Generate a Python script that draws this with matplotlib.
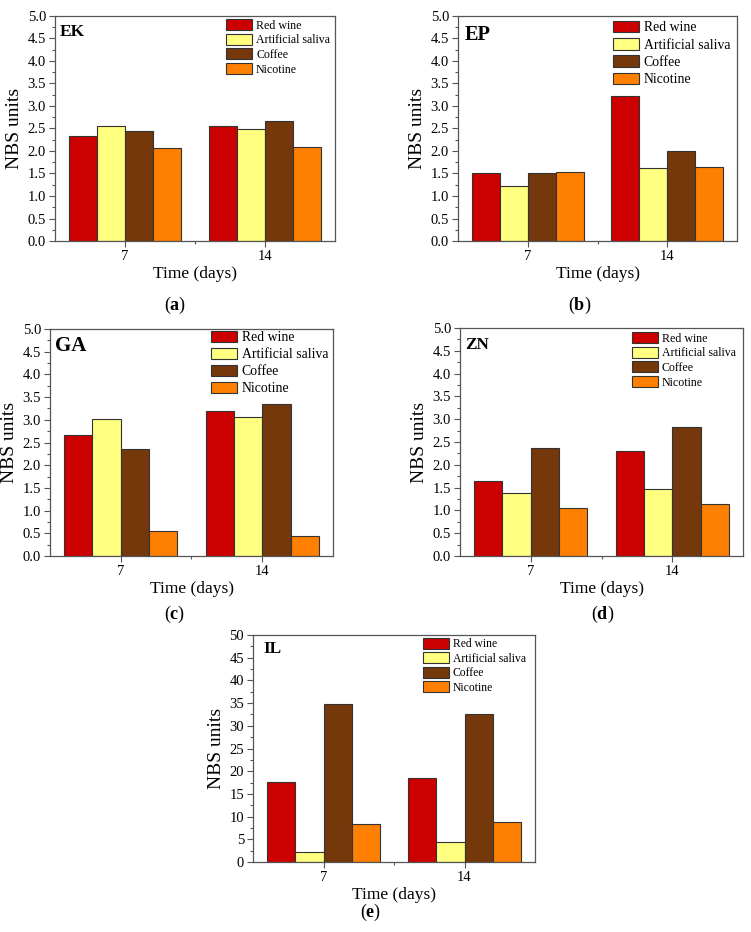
import numpy as np
import matplotlib
matplotlib.use("Agg")
import matplotlib.pyplot as plt
from matplotlib.ticker import MultipleLocator, FixedLocator, FormatStrFormatter

plt.rcParams["font.family"] = ["Liberation Serif", "DejaVu Serif"]
plt.rcParams["mathtext.fontset"] = "custom"
plt.rcParams["mathtext.rm"] = "Liberation Serif"
plt.rcParams["mathtext.bf"] = "Liberation Serif:bold"

# data
days = [7, 14]
series = ["Red wine", "Artificial saliva", "Coffee", "Nicotine"]
colors = ["#CC0000", "#FFFF80", "#74380A", "#FF8000"]

ek = [[2.33, 2.56], [2.56, 2.49], [2.44, 2.66], [2.06, 2.09]]
ep = [[1.50, 3.23], [1.23, 1.63], [1.52, 1.99], [1.54, 1.64]]
ga = [[2.66, 3.19], [3.01, 3.07], [2.35, 3.34], [0.55, 0.44]]
zn = [[1.65, 2.30], [1.38, 1.46], [2.36, 2.82], [1.05, 1.15]]
il = [[17.7, 18.4], [2.2, 4.4], [34.7, 32.5], [8.4, 8.9]]

W, H = 751, 932
fig = plt.figure(figsize=(W / 100, H / 100), dpi=100)

# name, data, ymax, major, minor, axes box px (l, t, r, b), sub label, label xy,
# legend font, legend spacing, legend offset px (right, top), name font, name offset px
panels = [
    ("EK", ek, 5.0, 0.5, 0.25, (55, 16, 335, 241), "a", (175, 305), 8.6, 0.17, (5, 3), 12.5, (5, 9)),
    ("EP", ep, 5.0, 0.5, 0.25, (458, 16, 737, 241), "b", (580, 305), 9.9, 0.27, (7, 5), 14.7, (7, 10)),
    ("GA", ga, 5.0, 0.5, 0.25, (50, 329, 333, 556), "c", (175, 614), 9.9, 0.25, (5, 2), 15, (5, 8)),
    ("ZN", zn, 5.0, 0.5, 0.25, (460, 328, 743, 556), "d", (603, 614), 8.6, 0.17, (7, 4), 12.3, (5, 10)),
    ("IL", il, 50, 5, 2.5, (253, 635, 535, 862), "e", (371, 912), 8.4, 0.17, (9, 3), 12.5, (10, 7)),
]

bw = 1.4
offsets = [-2.1, -0.7, 0.7, 2.1]
spine_col = "#555555"

for (name, data, ymax, major, minor, (l, t, r, b), sub, (lx, ly),
     lfs, lsp, (lox, loy), nfs, (nox, noy)) in panels:
    aw, ah = r - l, b - t
    ax = fig.add_axes([l / W, 1 - b / H, aw / W, ah / H])
    for vals, lab, col, off in zip(data, series, colors, offsets):
        ax.bar(np.array(days) + off, vals, width=bw, color=col, edgecolor="#333333",
               linewidth=0.8, label=lab)
    ax.set_xlim(3.5, 17.5)
    ax.set_ylim(0, ymax)
    ax.set_xticks(days)
    ax.xaxis.set_minor_locator(FixedLocator([10.5]))
    ax.yaxis.set_major_locator(MultipleLocator(major))
    ax.yaxis.set_minor_locator(MultipleLocator(minor))
    if ymax < 10:
        ax.yaxis.set_major_formatter(FormatStrFormatter("%.1f"))
    ax.tick_params(axis="both", which="major", direction="out", length=4, width=0.8,
                   labelsize=10.5, color=spine_col, pad=2.5)
    ax.tick_params(axis="both", which="minor", direction="out", length=2.5, width=0.8,
                   color=spine_col)
    for s in ax.spines.values():
        s.set_color(spine_col)
        s.set_linewidth(0.9)
    ax.set_xlabel("Time (days)", fontsize=12.5, labelpad=2)
    ax.set_ylabel("NBS units", fontsize=14, labelpad=3)
    ax.text(nox / aw, 1 - (noy - 1) / ah, name, transform=ax.transAxes, fontsize=nfs,
            fontweight="bold", va="top", ha="left")
    fpx = lfs * 100 / 72
    ax.legend(loc="upper right", bbox_to_anchor=(1 - lox / aw, 1 - loy / ah),
              fontsize=lfs, frameon=False, handlelength=26 / fpx,
              handleheight=12.5 / fpx, labelspacing=lsp, handletextpad=0.3,
              borderaxespad=0, borderpad=0)
    fig.text(lx / W, 1 - ly / H, r"($\mathbf{%s}$)" % sub, fontsize=13,
             ha="center", va="center")

fig.savefig("out.png", dpi=100)
